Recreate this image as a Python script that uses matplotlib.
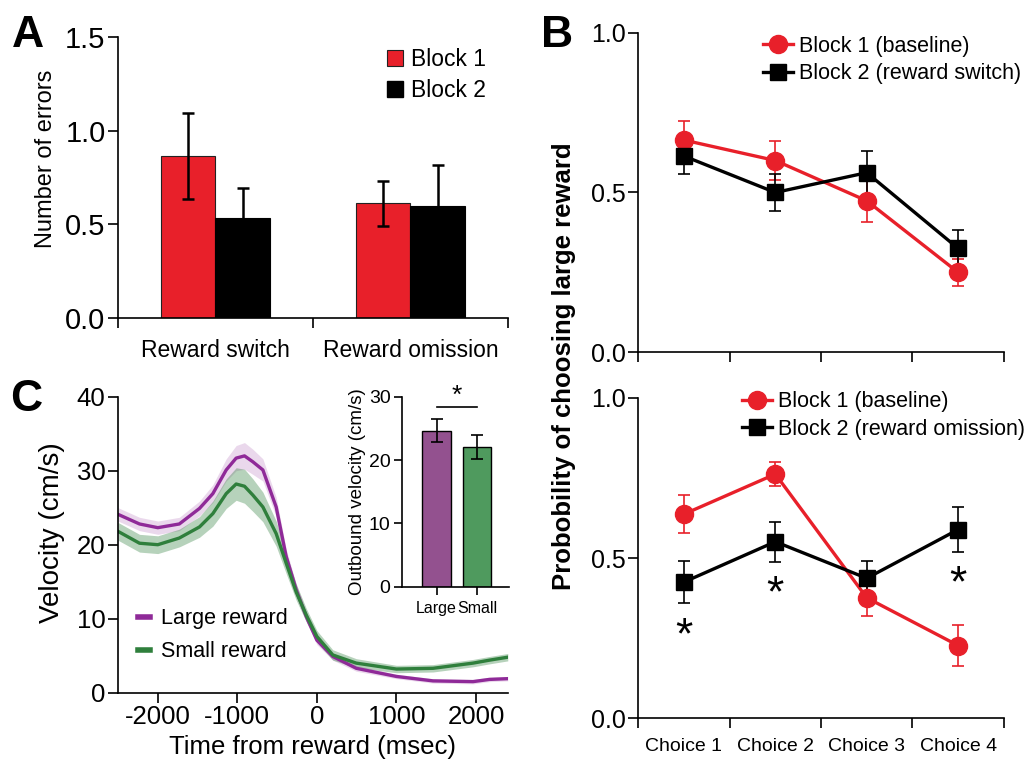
import numpy as np
import matplotlib.pyplot as plt
from matplotlib import font_manager
from matplotlib.patches import Patch
from matplotlib.lines import Line2D

names = {f.name for f in font_manager.fontManager.ttflist}
fam = "Liberation Sans Narrow" if "Liberation Sans Narrow" in names else "Liberation Sans"
plt.rcParams["font.family"] = [fam, "DejaVu Sans"]
plt.rcParams["axes.unicode_minus"] = False
plt.rcParams["axes.linewidth"] = 1.2
plt.rcParams["xtick.major.width"] = 1.2
plt.rcParams["ytick.major.width"] = 1.2
plt.rcParams["xtick.major.size"] = 7
plt.rcParams["ytick.major.size"] = 7
plt.rcParams["xtick.major.pad"] = 2
plt.rcParams["ytick.major.pad"] = 2

RED = "#e8202a"
PURPLE = "#8f2a98"
GREEN = "#2f7f3c"

# ---- Panel A: number of errors
err_groups = ["Reward switch", "Reward omission"]
err_block1 = [0.865, 0.612]
err_block1_se = [0.23, 0.12]
err_block2 = [0.536, 0.60]
err_block2_se = [0.16, 0.22]

# ---- Panel B: probability of choosing large reward
choices = ["Choice 1", "Choice 2", "Choice 3", "Choice 4"]
sw_block1 = [0.664, 0.600, 0.474, 0.250]
sw_block1_se = [0.06, 0.06, 0.065, 0.043]
sw_block2 = [0.614, 0.500, 0.562, 0.325]
sw_block2_se = [0.056, 0.058, 0.069, 0.058]
om_block1 = [0.637, 0.762, 0.376, 0.227]
om_block1_se = [0.06, 0.038, 0.056, 0.065]
om_block2 = [0.425, 0.551, 0.437, 0.589]
om_block2_se = [0.065, 0.062, 0.055, 0.07]
om_star_choice = [0, 1, 3]
om_star_y = [0.255, 0.385, 0.415]

# ---- Panel C: velocity around reward
time_ms = [-2500, -2230, -2000, -1730, -1476, -1308, -1140, -1015, -910, -805, -679,
           -512, -386, -260, -134, 0, 200, 495, 1000, 1460, 1963, 2170, 2400]
vel_large = [24.1, 22.8, 22.3, 22.8, 24.9, 26.9, 30.1, 31.7, 32.0, 31.2, 30.1,
             25.1, 18.4, 13.9, 10.3, 7.1, 4.9, 3.3, 2.2, 1.6, 1.5, 1.8, 1.9]
vel_large_se = [0.9, 0.9, 0.9, 0.9, 1.0, 1.2, 1.5, 1.7, 1.8, 1.7, 1.5,
                1.3, 1.0, 0.8, 0.7, 0.6, 0.5, 0.4, 0.3, 0.3, 0.3, 0.3, 0.3]
vel_small = [21.8, 20.2, 20.0, 20.9, 22.4, 24.2, 26.9, 28.2, 27.9, 26.7, 25.1,
             21.5, 17.5, 13.6, 10.5, 7.6, 5.1, 4.0, 3.2, 3.3, 4.0, 4.4, 4.8]
vel_small_se = [1.2, 1.2, 1.2, 1.2, 1.4, 1.7, 2.0, 2.2, 2.3, 2.2, 2.0,
                1.7, 1.4, 1.1, 0.9, 0.8, 0.7, 0.6, 0.5, 0.5, 0.5, 0.5, 0.5]
inset_labels = ["Large", "Small"]
inset_vel = [24.6, 22.0]
inset_se = [1.8, 1.9]

fig = plt.figure(figsize=(10.31, 7.74), dpi=100)

# ================= A =================
axA = fig.add_axes([0.1145, 0.589, 0.378, 0.363])
xa = np.arange(2) + 0.5
bw = 0.28
axA.bar(xa - bw / 2, err_block1, bw, color=RED, edgecolor="#222222", linewidth=0.8,
        yerr=err_block1_se, error_kw=dict(ecolor="black", elinewidth=1.8, capsize=4, capthick=1.8),
        label="Block 1")
axA.bar(xa + bw / 2, err_block2, bw, color="black", edgecolor="black", linewidth=0.8,
        yerr=err_block2_se, error_kw=dict(ecolor="black", elinewidth=1.8, capsize=4, capthick=1.8),
        label="Block 2")
axA.set_xlim(0, 2)
axA.set_ylim(0, 1.5)
axA.set_yticks([0, 0.5, 1.0, 1.5])
axA.set_yticklabels(["0.0", "0.5", "1.0", "1.5"])
axA.set_xticks([0, 1, 2])
axA.set_xticklabels([])
axA.set_xticks(xa, minor=True)
axA.set_xticklabels(err_groups, minor=True, fontsize=16.5)
axA.tick_params(axis="x", which="minor", length=0, pad=15)
axA.tick_params(axis="y", labelsize=21)
axA.set_ylabel("Number of errors", fontsize=17)
axA.yaxis.set_label_coords(-0.157, 0.566)
for s in ["top", "right"]:
    axA.spines[s].set_visible(False)
hA = [Patch(facecolor=RED, edgecolor="#222222", linewidth=0.8),
      Patch(facecolor="black", edgecolor="black")]
axA.legend(hA, ["Block 1", "Block 2"], loc="upper left", bbox_to_anchor=(0.69, 0.96),
           frameon=False, fontsize=16.5, handlelength=0.7, handleheight=0.7,
           handletextpad=0.35, labelspacing=0.35, borderpad=0, borderaxespad=0)
fig.text(0.012, 0.98, "A", fontsize=32, fontweight="bold", family="Liberation Sans", va="top")

# ================= C =================
axC = fig.add_axes([0.1145, 0.105, 0.378, 0.3825])
axC.fill_between(time_ms, np.array(vel_large) - vel_large_se, np.array(vel_large) + vel_large_se,
                 color=PURPLE, alpha=0.18, linewidth=0)
axC.fill_between(time_ms, np.array(vel_small) - vel_small_se, np.array(vel_small) + vel_small_se,
                 color=GREEN, alpha=0.35, linewidth=0)
axC.plot(time_ms, vel_large, color=PURPLE, lw=2.4, label="Large reward")
axC.plot(time_ms, vel_small, color=GREEN, lw=2.4, label="Small reward")
axC.set_xlim(-2500, 2400)
axC.set_ylim(0, 40)
axC.set_xticks([-2000, -1000, 0, 1000, 2000])
axC.set_yticks([0, 10, 20, 30, 40])
axC.tick_params(labelsize=18.5)
axC.set_xlabel("Time from reward (msec)", fontsize=18.5, labelpad=4)
axC.set_ylabel("Velocity (cm/s)", fontsize=20)
axC.yaxis.set_label_coords(-0.137, 0.54)
for s in ["top", "right"]:
    axC.spines[s].set_visible(False)
axC.legend(loc="upper left", bbox_to_anchor=(0.05, 0.285), frameon=False, fontsize=15.5,
           handlelength=0.6, handletextpad=0.5, labelspacing=0.55, borderpad=0, borderaxespad=0)
for ln in axC.get_legend().get_lines():
    ln.set_linewidth(4)
fig.text(0.01, 0.51, "C", fontsize=32, fontweight="bold", family="Liberation Sans", va="top")

# inset
axI = fig.add_axes([0.3896, 0.242, 0.104, 0.2455])
xi = np.arange(2)
axI.bar(xi, inset_vel, 0.7, color=["#93518f", "#4f9a5e"], edgecolor="black", linewidth=1.0,
        yerr=inset_se, error_kw=dict(ecolor="black", elinewidth=1.2, capsize=4, capthick=1.2))
axI.plot([0, 1], [28.4, 28.4], color="black", lw=1.2)
axI.text(0.5, 28.2, "*", ha="center", va="bottom", fontsize=19)
axI.set_xlim(-0.86, 1.78)
axI.set_ylim(0, 30)
axI.set_yticks([0, 10, 20, 30])
axI.set_xticks(xi)
axI.set_xticklabels(inset_labels)
axI.tick_params(axis="y", labelsize=14, length=6)
axI.tick_params(axis="x", labelsize=11.5, length=6, pad=4)
axI.set_ylabel("Outbound velocity (cm/s)", fontsize=13.5, labelpad=2)
for s in ["top", "right"]:
    axI.spines[s].set_visible(False)


# ================= B =================
def choice_panel(ax, b1, b1se, b2, b2se, lab2, leg_anchor, show_xlabels):
    xb = np.arange(4) + 0.5
    ax.errorbar(xb, b1, yerr=b1se, color=RED, marker="o", ms=13, lw=2.4,
                elinewidth=1.2, capsize=4, capthick=1.2)
    ax.errorbar(xb, b2, yerr=b2se, color="black", marker="s", ms=12, lw=2.4,
                elinewidth=1.2, capsize=4, capthick=1.2)
    ax.set_xlim(0, 4)
    ax.set_ylim(0, 1.0)
    ax.set_yticks([0, 0.5, 1.0])
    ax.set_yticklabels(["0.0", "0.5", "1.0"])
    ax.set_xticks([0, 1, 2, 3, 4])
    ax.set_xticklabels([])
    if show_xlabels:
        ax.set_xticks(xb, minor=True)
        ax.set_xticklabels(choices, minor=True, fontsize=14)
        ax.tick_params(axis="x", which="minor", length=0, pad=14)
    ax.tick_params(axis="y", labelsize=18)
    for s in ["top", "right"]:
        ax.spines[s].set_visible(False)
    hB = [Line2D([], [], color=RED, marker="o", ms=13, lw=2.4),
          Line2D([], [], color="black", marker="s", ms=12, lw=2.4)]
    ax.legend(hB, ["Block 1 (baseline)", lab2], loc="upper left", bbox_to_anchor=leg_anchor,
              frameon=False, fontsize=15.5, handlelength=1.4, handletextpad=0.3,
              labelspacing=0.3, borderpad=0, borderaxespad=0)
    return xb


axB1 = fig.add_axes([0.619, 0.5448, 0.3547, 0.413])
choice_panel(axB1, sw_block1, sw_block1_se, sw_block2, sw_block2_se,
             "Block 2 (reward switch)", (0.341, 0.99), False)
axB2 = fig.add_axes([0.619, 0.072, 0.3547, 0.414])
xb = choice_panel(axB2, om_block1, om_block1_se, om_block2, om_block2_se,
                  "Block 2 (reward omission)", (0.283, 1.02), True)
for c, y in zip(om_star_choice, om_star_y):
    axB2.text(xb[c], y, "*", ha="center", va="center", fontsize=32)

fig.text(0.547, 0.527, "Probobility of choosing large reward", rotation=90, fontsize=18.5,
         fontweight="bold", family="Liberation Sans", ha="center", va="center")
fig.text(0.525, 0.98, "B", fontsize=32, fontweight="bold", family="Liberation Sans", va="top")

fig.savefig("out.png", dpi=100)
